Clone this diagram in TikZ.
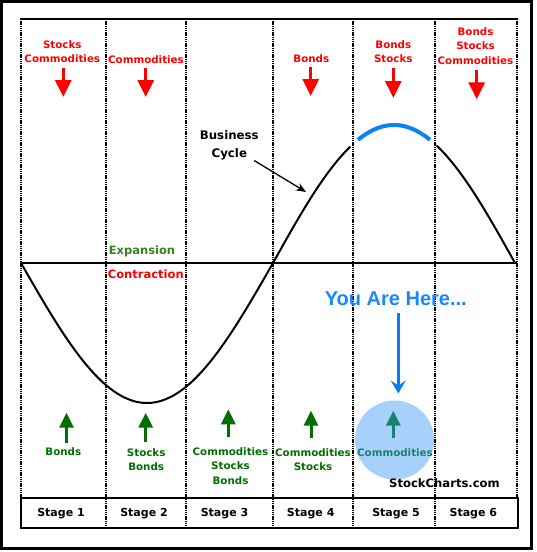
\documentclass[tikz,border=0pt]{standalone}
\usepackage{fontspec}
\setmainfont{DejaVu Sans}
\newfontfamily\arialfont{Liberation Sans}
\usetikzlibrary{arrows.meta}
\definecolor{lblred}{RGB}{255,0,0}
\definecolor{lblgreen}{RGB}{0,110,0}
\definecolor{expgreen}{RGB}{56,128,32}
\definecolor{hereblue}{RGB}{25,135,245}
\definecolor{arrblue}{RGB}{10,125,235}
\definecolor{circblue}{RGB}{60,150,245}
\definecolor{cycleblue}{RGB}{10,130,240}
\begin{document}
\begin{tikzpicture}[x=1pt,y=-1pt,
  lbl/.style={font=\bfseries\fontsize{10.3}{14.3}\selectfont, align=center, inner sep=0pt},
  redlbl/.style={lbl, text=lblred},
  greenlbl/.style={lbl, text=lblgreen},
  stagelbl/.style={font=\bfseries\fontsize{11}{13}\selectfont, inner sep=0pt},
  redarr/.style={draw=lblred, line width=3pt, -{Triangle[length=17pt,width=16pt]}},
  greenarr/.style={draw=lblgreen, line width=3pt, -{Triangle[length=15pt,width=14pt]}},
  divider/.style={line width=2.2pt, dash pattern=on 1.4pt off 0.8pt},
  cyclecurve/.style={line width=2pt, line cap=round},
]
\useasboundingbox (0,0) rectangle (536,552);
% outer border
\draw[line width=3pt] (1.5,1.5) rectangle (531.5,548.5);
% frame top
\draw[line width=2pt] (20,19) -- (517.5,19);
% midline
\draw[line width=1.6pt] (21,263) -- (517,263);
% business cycle curve
\draw[cyclecurve] plot[domain=21:273, samples=80] (\x, {263 + 140*sin((\x-21)/252*180)});
\draw[cyclecurve] plot[domain=273:350, samples=40] (\x, {263 - 138*sin((\x-273)/242*180)});
\draw[cyclecurve] plot[domain=437:515, samples=40] (\x, {263 - 138*sin((\x-273)/242*180)});
\draw[line width=4pt, draw=cycleblue] plot[domain=358:430, samples=40] (\x, {263 - 138*sin((\x-273)/242*180)});
% dividers
\draw[divider] (21,19) -- (21,498);
\foreach \xx in {106,186,273,353,435} { \draw[divider] (\xx,19) -- (\xx,528); }
\draw[divider] (517,19) -- (517,498);
% stage row
\draw[line width=2.5pt] (21,498) rectangle (518,528);
\node[stagelbl] (s1) at (61,514) {Stage 1};
\node[stagelbl] (s2) at (144,514) {Stage 2};
\node[stagelbl] (s3) at (224.5,514) {Stage 3};
\node[stagelbl] (s4) at (310.7,514) {Stage 4};
\node[stagelbl] (s5) at (396,514) {Stage 5};
\node[stagelbl] (s6) at (473.3,514) {Stage 6};
% top labels (sell)
\node[redlbl] (t1) at (62.3,51.8) {Stocks\\Commodities};
\node[redlbl] (t2) at (146,59.3) {Commodities};
\node[redlbl] (t4) at (311.3,58.7) {Bonds};
\node[redlbl] (t5) at (393.3,51.5) {Bonds\\Stocks};
\node[redlbl] (t6) at (475.5,46) {Bonds\\Stocks\\Commodities};
\coordinate (r1a) at (63.3,68);   \coordinate (r1b) at (63.3,97);
\coordinate (r2a) at (145.7,68);  \coordinate (r2b) at (145.7,97);
\coordinate (r4a) at (310.7,67);  \coordinate (r4b) at (310.7,96);
\coordinate (r5a) at (393.3,68);  \coordinate (r5b) at (393.3,98);
\coordinate (r6a) at (476.7,69.5);\coordinate (r6b) at (476.7,99.3);
\foreach \k in {1,2,4,5,6} { \draw[redarr] (r\k a) -- (r\k b); }
% bottom labels (buy)
\node[greenlbl] (b1) at (63.3,451.7) {Bonds};
\node[greenlbl] (b2) at (146.2,459.5) {Stocks\\Bonds};
\node[greenlbl] (b3) at (230.5,466) {Commodities\\Stocks\\Bonds};
\node[greenlbl] (b4) at (313,459.5) {Commodities\\Stocks};
\node[greenlbl] (b5) at (395,452.3) {Commodities};
\coordinate (g1a) at (66.5,442.7);  \coordinate (g1b) at (66.5,412.7);
\coordinate (g2a) at (145.7,441.7); \coordinate (g2b) at (145.7,412.7);
\coordinate (g3a) at (228.3,436.7); \coordinate (g3b) at (228.3,409.3);
\coordinate (g4a) at (311,438.3);   \coordinate (g4b) at (311,410.7);
\coordinate (g5a) at (393.3,438.3); \coordinate (g5b) at (393.3,410.7);
\foreach \k in {1,2,3,4,5} { \draw[greenarr] (g\k a) -- (g\k b); }
% you are here circle
\fill[circblue, fill opacity=0.45] (394.5,440) circle (39.5);
% expansion / contraction
\node[font=\bfseries\fontsize{11.5}{14}\selectfont, text=expgreen, inner sep=0pt] (exp) at (142,251.7) {Expansion};
\node[font=\bfseries\fontsize{11.5}{14}\selectfont, text=lblred, inner sep=0pt] (con) at (145.8,274.6) {Contraction};
% business cycle label
\node[font=\bfseries\fontsize{11.8}{18.3}\selectfont, align=center, inner sep=0pt] (bc) at (229.3,145.4) {Business\\Cycle};
\coordinate (bctip) at (306,192);
\draw[line width=1.3pt, -{Stealth[length=10pt,width=8pt]}] (bc) -- (bctip);
% you are here
\node[font=\arialfont\bfseries\fontsize{20}{24}\selectfont, text=hereblue, inner sep=0pt] (here) at (395.8,299) {You Are Here...};
\coordinate (ha) at (398.3,313);
\coordinate (hb) at (398.3,393.5);
\draw[draw=arrblue, line width=2.5pt, -{Stealth[length=13pt,width=15pt,inset=5pt]}] (ha) -- (hb);
% credit
\node[font=\bfseries\fontsize{11.6}{14}\selectfont, inner sep=0pt] (sc) at (444.5,483.3) {StockCharts.com};
\end{tikzpicture}
\end{document}
